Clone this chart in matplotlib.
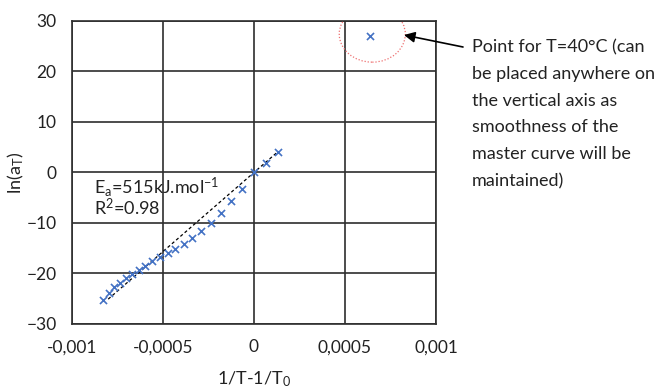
import matplotlib
matplotlib.use('Agg')
import matplotlib.pyplot as plt
import numpy as np
from matplotlib.patches import Ellipse

plt.rcParams['font.family'] = ['Lato', 'DejaVu Sans']
plt.rcParams['mathtext.default'] = 'regular'

# shift factors
inv_t = [-0.000831, -0.000797, -0.000769, -0.000736, -0.000703, -0.000670,
         -0.000630, -0.000597, -0.000559, -0.000516, -0.000474, -0.000432,
         -0.000386, -0.000339, -0.000290, -0.000236, -0.000183, -0.000125,
         -0.000066, 0.0, 0.0000643, 0.000134]
ln_at = [-25.2, -23.8, -22.7, -21.8, -20.9, -20.1, -19.4, -18.5, -17.6,
         -16.8, -16.0, -15.2, -14.1, -13.0, -11.6, -10.0, -8.0, -5.6, -3.2,
         0.0, 1.9, 4.0]

# the 40 C point
pt40_x = 0.00064
pt40_y = 27.0

xticks = [-0.001, -0.0005, 0, 0.0005, 0.001]
xticklabels = ['-0,001', '-0,0005', '0', '0,0005', '0,001']
yticks = [-30, -20, -10, 0, 10, 20, 30]

blue = '#4472C4'
grid_col = '#2e2e2e'
txt_col = '#222222'

fig = plt.figure(figsize=(6.55, 3.91), dpi=100)
ax = fig.add_axes([0.1099, 0.1714, 0.5557, 0.7749])

x = np.array(inv_t)
y = np.array(ln_at)
slope = np.sum(x * y) / np.sum(x * x)  # trend line through origin
xs = np.array([x.min() + 0.00003, x.max()])
ax.plot(xs, slope * xs, ls=(0, (2.5, 2)), color='black', lw=0.9, zorder=2)

ax.scatter(x, y, marker='x', color=blue, s=26, lw=1.2, zorder=3)
ax.scatter([pt40_x], [pt40_y], marker='x', color=blue, s=26, lw=1.2, zorder=3)

ax.add_patch(Ellipse((pt40_x + 0.00001, pt40_y + 0.4), 0.000363, 11.1,
                     fill=False, ec='#ee7070', ls=(0, (1, 1.5)), lw=0.9,
                     zorder=3))

ax.set_xlim(-0.001, 0.001)
ax.set_ylim(-30, 30)
ax.set_xticks(xticks)
ax.set_xticklabels(xticklabels)
ax.set_yticks(yticks)
ax.grid(True, color=grid_col, lw=1.2)
ax.set_axisbelow(True)
for s in ax.spines.values():
    s.set_color(grid_col)
    s.set_linewidth(1.2)
ax.tick_params(length=0, labelsize=12.5, pad=11, colors=txt_col)

ax.set_xlabel('1/T-1/T$_0$', fontsize=13, color=txt_col, labelpad=10)
ax.set_ylabel('ln(a$_T$)', fontsize=13, color=txt_col, labelpad=0)

ax.text(-0.00088, -2.8, 'E$_a$=515kJ.mol$^{-1}$', fontsize=13, va='center',
        color=txt_col)
ax.text(-0.00088, -7.0, 'R$^2$=0.98', fontsize=13, va='center',
        color=txt_col)

fig.text(472 / 655, 1 - 39 / 391,
         'Point for T=40°C (can\nbe placed anywhere on\nthe vertical axis as\n'
         'smoothness of the\nmaster curve will be\nmaintained)',
         fontsize=13, va='top', ha='left', linespacing=1.83, color=txt_col)

ax.annotate('', xy=(404, 391 - 35), xycoords='figure pixels',
            xytext=(463, 391 - 47), textcoords='figure pixels',
            arrowprops=dict(arrowstyle='-|>', color='black', lw=1.2,
                            mutation_scale=16, shrinkA=0, shrinkB=0),
            annotation_clip=False)

fig.savefig('out.png', dpi=100)
